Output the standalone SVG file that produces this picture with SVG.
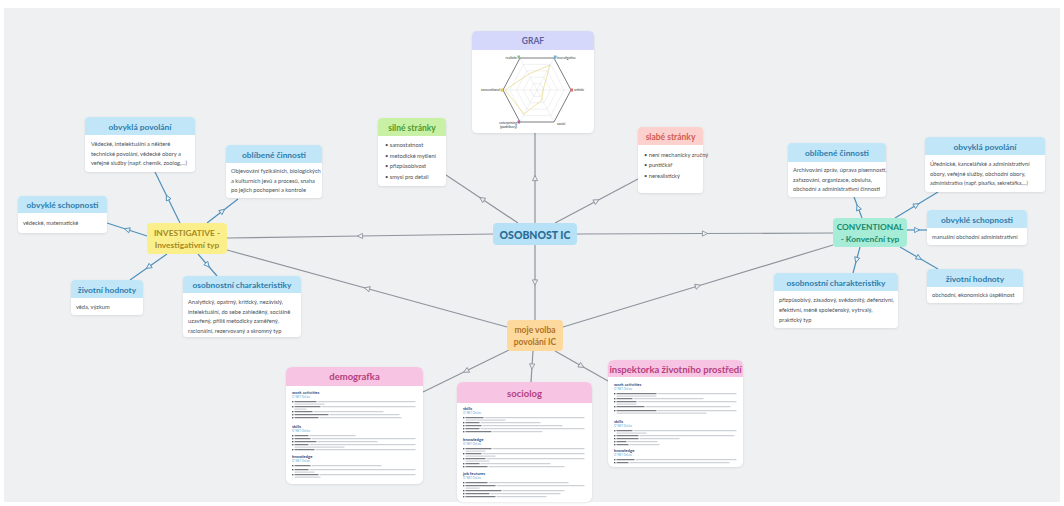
<svg xmlns="http://www.w3.org/2000/svg" width="1064" height="506" viewBox="0 0 1064 506">
<defs>
<style>
.hb{font-family:Lato,"Noto Sans",sans-serif;font-weight:700;font-size:8.4px;fill:#2f7cab;text-anchor:middle}
.bt{font-family:Lato,"Noto Sans",sans-serif;font-size:5.7px;fill:#4a4f55}
.card{fill:#ffffff;filter:url(#sh)}
.hblue{fill:#c1e6f8}
.hpink{fill:#f7c4e4}
.hp{font-family:Lato,"Noto Sans",sans-serif;font-weight:700;font-size:9.5px;fill:#b5407e;text-anchor:middle}
.cg{fill:none;stroke:#8d949c;stroke-width:1.2;marker-mid:url(#ag)}
.cb{fill:none;stroke:#4f90ba;stroke-width:1.2;marker-mid:url(#ab)}
.sh4{font-family:Lato,"Noto Sans",sans-serif;font-weight:700;font-size:4.2px;fill:#2c4a7e}
.tag{font-family:Lato,"Noto Sans",sans-serif;font-size:2.8px;fill:#6aa8d8}
.bd{fill:#5a5f66}
.bl{fill:#c3c7cc}
.gl{font-family:Lato,"Noto Sans",sans-serif;font-size:3.4px;fill:#333}
</style>
<filter id="sh" x="-10%" y="-10%" width="120%" height="130%"><feDropShadow dx="0" dy="0.8" stdDeviation="1" flood-color="#000" flood-opacity="0.10"/></filter>
<marker id="ag" viewBox="0 0 8 8" refX="4" refY="4" markerWidth="7" markerHeight="7" orient="auto" markerUnits="userSpaceOnUse"><path d="M1,1 L7,4 L1,7 Z" fill="#eff0f2" stroke="#8d949c" stroke-width="1"/></marker>
<marker id="ab" viewBox="0 0 8 8" refX="4" refY="4" markerWidth="7" markerHeight="7" orient="auto" markerUnits="userSpaceOnUse"><path d="M1,1 L7,4 L1,7 Z" fill="#eff0f2" stroke="#4f90ba" stroke-width="1"/></marker>
</defs>
<rect width="1064" height="506" fill="#ffffff"/>
<rect x="4" y="8" width="1056" height="494" fill="#eff0f2"/>

<g id="connectors">
<polyline class="cg" points="493,234 360,236 227,238"/>
<polyline class="cg" points="577,234 705,233.5 833,233"/>
<polyline class="cg" points="535,223 535,178 535,133"/>
<polyline class="cg" points="518,223 482,199 446,175"/>
<polyline class="cg" points="555,223 596.5,201 638,179"/>
<polyline class="cg" points="535,245 535,282.5 535,320"/>
<polyline class="cg" points="507,327 367,288.5 227,250"/>
<polyline class="cg" points="563,327 698,286 833,245"/>
<polyline class="cg" points="509,350 466,371 423,392"/>
<polyline class="cg" points="533,351 532,366.5 531,382"/>
<polyline class="cg" points="555,351 581.5,366 608,381"/>
<polyline class="cb" points="180,223 167.5,197.5 155,172"/>
<polyline class="cb" points="207,223 222.5,211 238,199"/>
<polyline class="cb" points="147,236 127,229.5 107,223"/>
<polyline class="cb" points="167,254 148.5,267 130,280"/>
<polyline class="cb" points="198,254 207.5,265 217,276"/>
<polyline class="cb" points="862,218 858,207.5 854,197"/>
<polyline class="cb" points="895,218 916.5,205 938,192"/>
<polyline class="cb" points="907,230 917,230 927,230"/>
<polyline class="cb" points="900,247 919,258 938,269"/>
<polyline class="cb" points="860,247 856.5,260 853,273"/>
</g>

<g id="osobnost">
<rect x="493" y="223" width="84" height="22" rx="4" fill="#b6e1f6"/>
<text x="535" y="238.5" font-family="Lato,'Noto Sans',sans-serif" font-weight="900" font-size="10.5px" fill="#2a6d97" text-anchor="middle">OSOBNOST IC</text>
</g>

<g id="graf">
<rect class="card" x="472" y="31" width="122" height="102" rx="5"/>
<path d="M472,50 V36 Q472,31 477,31 H589 Q594,31 594,36 V50 Z" fill="#d5d7fb"/>
<text x="533" y="44" font-family="Lato,'Noto Sans',sans-serif" font-weight="700" font-size="8.5px" fill="#5c5fa0" text-anchor="middle">GRAF</text>
<g fill="none" stroke="#d9dbe0" stroke-width="0.4">
<polygon points="509.8,90 523.4,64.4 550.6,64.4 564.2,90 550.6,115.6 523.4,115.6"/>
<polygon points="516.6,90 526.8,70.8 547.2,70.8 557.4,90 547.2,109.2 526.8,109.2"/>
<polygon points="523.4,90 530.2,77.2 543.8,77.2 550.6,90 543.8,102.8 530.2,102.8"/>
<polygon points="530.2,90 533.6,83.6 540.4,83.6 543.8,90 540.4,96.4 533.6,96.4"/>
<line x1="503" y1="90" x2="571" y2="90"/>
<line x1="520" y1="58" x2="554" y2="122"/>
<line x1="554" y1="58" x2="520" y2="122"/>
</g>
<polygon points="503,90 520,58 554,58 571,90 554,122 520,122" fill="none" stroke="#555a60" stroke-width="0.8"/>
<polygon points="505,90 529,74 550,65 543,90 542,100 524,114" fill="none" stroke="#e6d36a" stroke-width="0.6"/>
<text class="gl" x="517" y="59" text-anchor="end">realistic</text>
<text class="gl" x="557" y="59">investigative</text>
<text class="gl" x="574" y="91">artistic</text>
<text class="gl" x="557" y="125">social</text>
<text class="gl" x="517" y="124" text-anchor="end">enterprising</text>
<text class="gl" x="517" y="128" text-anchor="end">(podnikavý)</text>
<text class="gl" x="500" y="91" text-anchor="end">conventional</text>
<rect x="517.5" y="55.5" width="2.5" height="3" fill="#8fc37a"/>
<rect x="554" y="55.5" width="2.5" height="3" fill="#6ab0d8"/>
<rect x="570.5" y="88.5" width="2.5" height="3" fill="#e07070"/>
<rect x="517.5" y="120.5" width="2.5" height="3" fill="#c05a9a"/>
<rect x="500.5" y="88.5" width="2.5" height="3" fill="#e5c85a"/>
</g>

<g id="silne">
<rect class="card" x="378" y="118" width="68" height="68" rx="4"/>
<path d="M378,136 V122 Q378,118 382,118 H442 Q446,118 446,122 V136 Z" fill="#c8f1a6"/>
<text x="412" y="131" font-family="Lato,'Noto Sans',sans-serif" font-weight="700" font-size="8.5px" fill="#4f9a2c" text-anchor="middle">silné stránky</text>
<g class="bt"><text x="385" y="147">• samostatnost</text><text x="385" y="157.5">• metodické myšlení</text><text x="385" y="168">• přizpůsobivost</text><text x="385" y="178.5">• smysl pro detail</text></g>
</g>

<g id="slabe">
<rect class="card" x="638" y="127" width="65" height="66" rx="4"/>
<path d="M638,145 V131 Q638,127 642,127 H699 Q703,127 703,131 V145 Z" fill="#fcd1cd"/>
<text x="670.5" y="140" font-family="Lato,'Noto Sans',sans-serif" font-weight="700" font-size="8.5px" fill="#d25a55" text-anchor="middle">slabé stránky</text>
<g class="bt"><text x="644" y="157">• není mechanicky zručný</text><text x="644" y="167">• puntičkář</text><text x="644" y="177.5">• nerealistický</text></g>
</g>

<g id="investigative">
<rect x="147" y="223" width="80" height="31" rx="4" fill="#fbef8c"/>
<text x="187" y="235.5" font-family="Lato,'Noto Sans',sans-serif" font-weight="700" font-size="8.4px" fill="#a38b22" text-anchor="middle">INVESTIGATIVE -</text>
<text x="187" y="247.5" font-family="Lato,'Noto Sans',sans-serif" font-weight="700" font-size="8.4px" fill="#a38b22" text-anchor="middle">Investigativní typ</text>
</g>

<g id="inv-povolani">
<rect class="card" x="85" y="117" width="110" height="55" rx="4"/>
<path d="M85,135 V121 Q85,117 89,117 H191 Q195,117 195,121 V135 Z" class="hblue"/>
<text class="hb" x="140" y="130">obvyklá povolání</text>
<g class="bt"><text x="91" y="146">Vědecké, intelektuální a některé</text><text x="91" y="155.5">technické povolání, vědecké obory a</text><text x="91" y="165">veřejné služby (např. chemik, zoolog,...)</text></g>
</g>

<g id="inv-cinnosti">
<rect class="card" x="226" y="145" width="96" height="53" rx="4"/>
<path d="M226,163 V149 Q226,145 230,145 H318 Q322,145 322,149 V163 Z" class="hblue"/>
<text class="hb" x="274" y="158">oblíbené činnosti</text>
<g class="bt"><text x="231" y="173">Objevování fyzikálních, biologických</text><text x="231" y="182.5">a kulturních jevů a procesů, snaha</text><text x="231" y="192">po jejich pochopení a kontrole</text></g>
</g>

<g id="inv-schopnosti">
<rect class="card" x="18" y="196" width="89" height="37" rx="4"/>
<path d="M18,213 V200 Q18,196 22,196 H103 Q107,196 107,200 V213 Z" class="hblue"/>
<text class="hb" x="62.5" y="208">obvyklé schopnosti</text>
<text class="bt" x="23" y="225">vědecké, matematické</text>
</g>

<g id="inv-hodnoty">
<rect class="card" x="71" y="280" width="72" height="35" rx="4"/>
<path d="M71,298 V284 Q71,280 75,280 H139 Q143,280 143,284 V298 Z" class="hblue"/>
<text class="hb" x="107" y="292.5">životní hodnoty</text>
<text class="bt" x="76" y="309">věda, výzkum</text>
</g>

<g id="inv-charakteristiky">
<rect class="card" x="183" y="276" width="118" height="61" rx="4"/>
<path d="M183,293 V280 Q183,276 187,276 H297 Q301,276 301,280 V293 Z" class="hblue"/>
<text class="hb" x="242" y="288">osobnostní charakteristiky</text>
<g class="bt"><text x="188" y="304">Analytický, opatrný, kritický, nezávislý,</text><text x="188" y="313.5">intelektuální, do sebe zahleděný, sociálně</text><text x="188" y="323">uzavřený, příliš metodicky zaměřený,</text><text x="188" y="332.5">racionální, rezervovaný a skromný typ</text></g>
</g>

<g id="conventional">
<rect x="833" y="218" width="74" height="29" rx="4" fill="#a6ecd6"/>
<text x="870" y="230" font-family="Lato,'Noto Sans',sans-serif" font-weight="700" font-size="8.4px" fill="#178a6e" text-anchor="middle">CONVENTIONAL</text>
<text x="870" y="242" font-family="Lato,'Noto Sans',sans-serif" font-weight="700" font-size="8.4px" fill="#178a6e" text-anchor="middle">- Konvenční typ</text>
</g>

<g id="con-cinnosti">
<rect class="card" x="788" y="143" width="98" height="54" rx="4"/>
<path d="M788,162 V147 Q788,143 792,143 H882 Q886,143 886,147 V162 Z" class="hblue"/>
<text class="hb" x="837" y="156">oblíbené činnosti</text>
<g class="bt"><text x="793" y="172">Archivování zpráv, úprava písemností,</text><text x="793" y="181.5">zařazování, organizace, obsluha,</text><text x="793" y="191">obchodní a administrativní činnosti</text></g>
</g>

<g id="con-povolani">
<rect class="card" x="925" y="137" width="120" height="55" rx="4"/>
<path d="M925,155 V141 Q925,137 929,137 H1041 Q1045,137 1045,141 V155 Z" class="hblue"/>
<text class="hb" x="985" y="150">obvyklá povolání</text>
<g class="bt" font-size="5.4px"><text x="930" y="166">Úřednické, kancelářské a administrativní</text><text x="930" y="175.5">obory, veřejné služby, obchodní obory,</text><text x="930" y="185" style="font-size:5.3px">administrativa (např. písařka, sekretářka,...)</text></g>
</g>

<g id="con-schopnosti">
<rect class="card" x="927" y="210" width="100" height="35" rx="4"/>
<path d="M927,228 V214 Q927,210 931,210 H1023 Q1027,210 1027,214 V228 Z" class="hblue"/>
<text class="hb" x="977" y="223">obvyklé schopnosti</text>
<text class="bt" x="932" y="239">manuální obchodní administrativní</text>
</g>

<g id="con-hodnoty">
<rect class="card" x="927" y="269" width="96" height="34" rx="4"/>
<path d="M927,287 V273 Q927,269 931,269 H1019 Q1023,269 1023,273 V287 Z" class="hblue"/>
<text class="hb" x="975" y="282">životní hodnoty</text>
<text class="bt" x="932" y="297">obchodní, ekonomická úspěšnost</text>
</g>

<g id="con-charakteristiky">
<rect class="card" x="774" y="273" width="124" height="55" rx="4"/>
<path d="M774,291 V277 Q774,273 778,273 H894 Q898,273 898,277 V291 Z" class="hblue"/>
<text class="hb" x="836" y="286">osobnostní charakteristiky</text>
<g class="bt"><text x="779" y="302">přizpůsobivý, zásadový, svědomitý, defenzivní,</text><text x="779" y="312">efektivní, méně společenský, vytrvalý,</text><text x="779" y="322">praktický typ</text></g>
</g>

<g id="moje-volba">
<rect x="507" y="320" width="56" height="31" rx="4" fill="#fdd99d"/>
<text x="535" y="333" font-family="Lato,'Noto Sans',sans-serif" font-weight="700" font-size="8.5px" fill="#b2711f" text-anchor="middle">moje volba</text>
<text x="535" y="345" font-family="Lato,'Noto Sans',sans-serif" font-weight="700" font-size="8.5px" fill="#b2711f" text-anchor="middle">povolání IC</text>
</g>

<g id="demografka">
<rect class="card" x="286" y="367" width="137" height="117" rx="6"/>
<path d="M286,386 V373 Q286,367 292,367 H417 Q423,367 423,373 V386 Z" class="hpink"/>
<text class="hp" x="354.5" y="380">demografka</text>
<text class="sh4" x="292" y="394">work activities</text><text class="tag" x="292" y="398">O*NET OnLine</text>
<g>
<rect class="bd" x="292" y="401" width="1.4" height="1.4"/><rect class="bd" x="294.5" y="401.2" width="22" height="1"/><rect class="bl" x="317.5" y="401.2" width="98" height="1"/><rect class="bl" x="294.5" y="403.6" width="30" height="1"/>
<rect class="bd" x="292" y="406" width="1.4" height="1.4"/><rect class="bd" x="294.5" y="406.2" width="26" height="1"/><rect class="bl" x="321.5" y="406.2" width="94" height="1"/><rect class="bl" x="294.5" y="408.6" width="12" height="1"/>
<rect class="bd" x="292" y="411" width="1.4" height="1.4"/><rect class="bd" x="294.5" y="411.2" width="18" height="1"/><rect class="bl" x="313.5" y="411.2" width="70" height="1"/>
<rect class="bd" x="292" y="414" width="1.4" height="1.4"/><rect class="bd" x="294.5" y="414.2" width="34" height="1"/><rect class="bl" x="329.5" y="414.2" width="70" height="1"/>
<rect class="bd" x="292" y="417" width="1.4" height="1.4"/><rect class="bd" x="294.5" y="417.2" width="24" height="1"/><rect class="bl" x="319.5" y="417.2" width="82" height="1"/>
</g>
<text class="sh4" x="292" y="428">skills</text><text class="tag" x="292" y="432">O*NET OnLine</text>
<g>
<rect class="bd" x="292" y="435" width="1.4" height="1.4"/><rect class="bd" x="294.5" y="435.2" width="14" height="1"/><rect class="bl" x="309.5" y="435.2" width="46" height="1"/>
<rect class="bd" x="292" y="438" width="1.4" height="1.4"/><rect class="bd" x="294.5" y="438.2" width="16" height="1"/><rect class="bl" x="311.5" y="438.2" width="104" height="1"/>
<rect class="bd" x="292" y="441" width="1.4" height="1.4"/><rect class="bd" x="294.5" y="441.2" width="22" height="1"/><rect class="bl" x="317.5" y="441.2" width="60" height="1"/>
<rect class="bd" x="292" y="444" width="1.4" height="1.4"/><rect class="bd" x="294.5" y="444.2" width="14" height="1"/><rect class="bl" x="309.5" y="444.2" width="106" height="1"/><rect class="bl" x="294.5" y="446.6" width="50" height="1"/>
<rect class="bd" x="292" y="449" width="1.4" height="1.4"/><rect class="bd" x="294.5" y="449.2" width="20" height="1"/><rect class="bl" x="315.5" y="449.2" width="100" height="1"/>
</g>
<text class="sh4" x="292" y="458">knowledge</text><text class="tag" x="292" y="462">O*NET OnLine</text>
<g>
<rect class="bd" x="292" y="465" width="1.4" height="1.4"/><rect class="bd" x="294.5" y="465.2" width="16" height="1"/><rect class="bl" x="311.5" y="465.2" width="70" height="1"/>
<rect class="bd" x="292" y="469" width="1.4" height="1.4"/><rect class="bd" x="294.5" y="469.2" width="14" height="1"/><rect class="bl" x="309.5" y="469.2" width="106" height="1"/><rect class="bl" x="294.5" y="471.6" width="20" height="1"/>
<rect class="bd" x="292" y="474" width="1.4" height="1.4"/><rect class="bd" x="294.5" y="474.2" width="24" height="1"/><rect class="bl" x="319.5" y="474.2" width="96" height="1"/><rect class="bl" x="294.5" y="476.6" width="26" height="1"/>
</g>
</g>

<g id="sociolog">
<rect class="card" x="457" y="382" width="135" height="120" rx="6"/>
<path d="M457,403 V388 Q457,382 463,382 H586 Q592,382 592,388 V403 Z" class="hpink"/>
<text class="hp" x="524.5" y="396.5">sociolog</text>
<text class="sh4" x="463" y="410">skills</text><text class="tag" x="463" y="414">O*NET OnLine</text>
<g>
<rect class="bd" x="463" y="417" width="1.4" height="1.4"/><rect class="bd" x="465.5" y="417.2" width="18" height="1"/><rect class="bl" x="484.5" y="417.2" width="100" height="1"/><rect class="bl" x="465.5" y="419.6" width="40" height="1"/>
<rect class="bd" x="463" y="422" width="1.4" height="1.4"/><rect class="bd" x="465.5" y="422.2" width="14" height="1"/><rect class="bl" x="480.5" y="422.2" width="60" height="1"/>
<rect class="bd" x="463" y="425" width="1.4" height="1.4"/><rect class="bd" x="465.5" y="425.2" width="16" height="1"/><rect class="bl" x="482.5" y="425.2" width="80" height="1"/>
<rect class="bd" x="463" y="428" width="1.4" height="1.4"/><rect class="bd" x="465.5" y="428.2" width="14" height="1"/><rect class="bl" x="480.5" y="428.2" width="104" height="1"/>
<rect class="bd" x="463" y="431" width="1.4" height="1.4"/><rect class="bd" x="465.5" y="431.2" width="26" height="1"/><rect class="bl" x="492.5" y="431.2" width="50" height="1"/>
</g>
<text class="sh4" x="463" y="441">knowledge</text><text class="tag" x="463" y="445">O*NET OnLine</text>
<g>
<rect class="bd" x="463" y="448" width="1.4" height="1.4"/><rect class="bd" x="465.5" y="448.2" width="26" height="1"/><rect class="bl" x="492.5" y="448.2" width="92" height="1"/><rect class="bl" x="465.5" y="450.6" width="20" height="1"/>
<rect class="bd" x="463" y="453" width="1.4" height="1.4"/><rect class="bd" x="465.5" y="453.2" width="16" height="1"/><rect class="bl" x="482.5" y="453.2" width="102" height="1"/><rect class="bl" x="465.5" y="455.6" width="30" height="1"/>
<rect class="bd" x="463" y="458" width="1.4" height="1.4"/><rect class="bd" x="465.5" y="458.2" width="20" height="1"/><rect class="bl" x="486.5" y="458.2" width="98" height="1"/><rect class="bl" x="465.5" y="460.6" width="24" height="1"/>
<rect class="bd" x="463" y="463" width="1.4" height="1.4"/><rect class="bd" x="465.5" y="463.2" width="14" height="1"/><rect class="bl" x="480.5" y="463.2" width="70" height="1"/>
<rect class="bd" x="463" y="466" width="1.4" height="1.4"/><rect class="bd" x="465.5" y="466.2" width="22" height="1"/><rect class="bl" x="488.5" y="466.2" width="76" height="1"/>
</g>
<text class="sh4" x="463" y="475">job features</text><text class="tag" x="463" y="479">O*NET OnLine</text>
<g>
<rect class="bd" x="463" y="482" width="1.4" height="1.4"/><rect class="bd" x="465.5" y="482.2" width="22" height="1"/><rect class="bl" x="488.5" y="482.2" width="80" height="1"/>
<rect class="bd" x="463" y="485" width="1.4" height="1.4"/><rect class="bd" x="465.5" y="485.2" width="30" height="1"/><rect class="bl" x="496.5" y="485.2" width="88" height="1"/><rect class="bl" x="465.5" y="487.6" width="14" height="1"/>
<rect class="bd" x="463" y="490" width="1.4" height="1.4"/><rect class="bd" x="465.5" y="490.2" width="36" height="1"/><rect class="bl" x="502.5" y="490.2" width="62" height="1"/>
<rect class="bd" x="463" y="493" width="1.4" height="1.4"/><rect class="bd" x="465.5" y="493.2" width="24" height="1"/><rect class="bl" x="490.5" y="493.2" width="70" height="1"/>
<rect class="bd" x="463" y="496" width="1.4" height="1.4"/><rect class="bd" x="465.5" y="496.2" width="30" height="1"/><rect class="bl" x="496.5" y="496.2" width="50" height="1"/>
</g>
</g>

<g id="inspektorka">
<rect class="card" x="608" y="360" width="135" height="107" rx="6"/>
<path d="M608,377 V366 Q608,360 614,360 H737 Q743,360 743,366 V377 Z" class="hpink"/>
<text class="hp" x="675.5" y="372.5">inspektorka životního prostředí</text>
<text class="sh4" x="614" y="386">work activities</text><text class="tag" x="614" y="390">O*NET OnLine</text>
<g>
<rect class="bd" x="614" y="393" width="1.4" height="1.4"/><rect class="bd" x="616.5" y="393.2" width="40" height="1"/><rect class="bl" x="657.5" y="393.2" width="79" height="1"/><rect class="bl" x="616.5" y="395.6" width="40" height="1"/>
<rect class="bd" x="614" y="398" width="1.4" height="1.4"/><rect class="bd" x="616.5" y="398.2" width="16" height="1"/><rect class="bl" x="633.5" y="398.2" width="70" height="1"/>
<rect class="bd" x="614" y="401" width="1.4" height="1.4"/><rect class="bd" x="616.5" y="401.2" width="20" height="1"/><rect class="bl" x="637.5" y="401.2" width="99" height="1"/><rect class="bl" x="616.5" y="403.6" width="20" height="1"/>
<rect class="bd" x="614" y="406" width="1.4" height="1.4"/><rect class="bd" x="616.5" y="406.2" width="28" height="1"/><rect class="bl" x="645.5" y="406.2" width="85" height="1"/>
<rect class="bd" x="614" y="410" width="1.4" height="1.4"/><rect class="bd" x="616.5" y="410.2" width="40" height="1"/><rect class="bl" x="657.5" y="410.2" width="79" height="1"/><rect class="bl" x="616.5" y="412.6" width="90" height="1"/>
</g>
<text class="sh4" x="614" y="423">skills</text><text class="tag" x="614" y="427">O*NET OnLine</text>
<g>
<rect class="bd" x="614" y="430" width="1.4" height="1.4"/><rect class="bd" x="616.5" y="430.2" width="16" height="1"/><rect class="bl" x="633.5" y="430.2" width="103" height="1"/><rect class="bl" x="616.5" y="432.6" width="30" height="1"/>
<rect class="bd" x="614" y="435" width="1.4" height="1.4"/><rect class="bd" x="616.5" y="435.2" width="22" height="1"/><rect class="bl" x="639.5" y="435.2" width="95" height="1"/>
<rect class="bd" x="614" y="438" width="1.4" height="1.4"/><rect class="bd" x="616.5" y="438.2" width="22" height="1"/><rect class="bl" x="639.5" y="438.2" width="40" height="1"/>
<rect class="bd" x="614" y="441" width="1.4" height="1.4"/><rect class="bd" x="616.5" y="441.2" width="10" height="1"/><rect class="bl" x="627.5" y="441.2" width="30" height="1"/>
<rect class="bd" x="614" y="444" width="1.4" height="1.4"/><rect class="bd" x="616.5" y="444.2" width="12" height="1"/><rect class="bl" x="629.5" y="444.2" width="30" height="1"/>
</g>
<text class="sh4" x="614" y="452">knowledge</text><text class="tag" x="614" y="456">O*NET OnLine</text>
<g>
<rect class="bd" x="614" y="459" width="1.4" height="1.4"/><rect class="bd" x="616.5" y="459.2" width="18" height="1"/><rect class="bl" x="635.5" y="459.2" width="101" height="1"/>
<rect class="bd" x="614" y="462" width="1.4" height="1.4"/><rect class="bd" x="616.5" y="462.2" width="12" height="1"/><rect class="bl" x="629.5" y="462.2" width="100" height="1"/>
</g>
</g>
</svg>
